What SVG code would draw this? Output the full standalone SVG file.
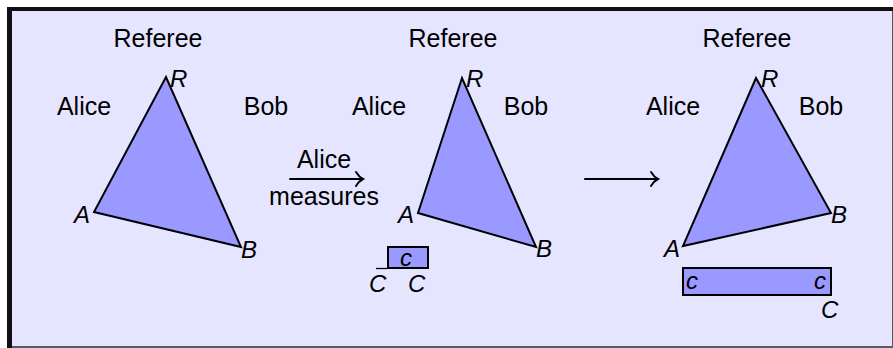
<svg xmlns="http://www.w3.org/2000/svg" width="893" height="348" viewBox="0 0 893 348">
<style>
.t{font-family:"Liberation Sans",Arial,sans-serif;font-size:25px;fill:#000}
.m{font-family:"Liberation Sans",Arial,sans-serif;font-size:24px;font-style:italic;fill:#000}
.tri{fill:#9999ff;stroke:#000;stroke-width:2;stroke-linejoin:miter}
.box{fill:#9999ff;stroke:#000;stroke-width:2}
.arr{fill:none;stroke:#000;stroke-width:2;stroke-linecap:round}
</style>
<rect x="0" y="0" width="893" height="348" fill="#fff"/>
<rect x="7" y="7" width="886" height="341" fill="#111"/>
<rect x="12" y="11" width="881" height="337" fill="#5a5a66"/>
<rect x="12" y="11" width="880" height="335" fill="#e5e5ff"/>

<g id="panel1">
<text class="t" x="158" y="47" text-anchor="middle">Referee</text>
<text class="t" x="84" y="115" text-anchor="middle">Alice</text>
<text class="t" x="266" y="115" text-anchor="middle">Bob</text>
<polygon class="tri" points="166,77 94,212 241,247"/>
<text class="m" x="170" y="87">R</text>
<text class="m" x="74" y="223">A</text>
<text class="m" x="241" y="258">B</text>
</g>

<g id="panel2">
<text class="t" x="453" y="47" text-anchor="middle">Referee</text>
<text class="t" x="379" y="115" text-anchor="middle">Alice</text>
<text class="t" x="526" y="115" text-anchor="middle">Bob</text>
<polygon class="tri" points="462,78 418,213 536,247"/>
<text class="m" x="466" y="87">R</text>
<text class="m" x="398" y="223">A</text>
<text class="m" x="536" y="257">B</text>
<rect class="box" x="388" y="247" width="40" height="21"/>
<text class="m" x="400" y="266">c</text>
<text class="m" x="369" y="292">C</text>
<line x1="376" y1="268.5" x2="387" y2="268.5" stroke="#000" stroke-width="1.3"/>
<text class="m" x="408" y="292">C</text>
</g>

<g id="panel3">
<text class="t" x="747" y="47" text-anchor="middle">Referee</text>
<text class="t" x="673" y="115" text-anchor="middle">Alice</text>
<text class="t" x="821" y="115" text-anchor="middle">Bob</text>
<polygon class="tri" points="756,78 683,246 831,213"/>
<text class="m" x="761" y="87">R</text>
<text class="m" x="664" y="257">A</text>
<text class="m" x="831" y="223">B</text>
<rect class="box" x="683" y="268" width="148" height="27"/>
<text class="m" x="686" y="289">c</text>
<text class="m" x="814" y="289">c</text>
<text class="m" x="821" y="318">C</text>
</g>

<g id="connectors">
<g id="arrow1">
<line class="arr" x1="290" y1="179" x2="362" y2="179"/>
<path class="arr" d="M356,172 Q359,177 363,179 Q359,181 356,186"/>
<text class="t" x="324" y="168" text-anchor="middle">Alice</text>
<text class="t" x="324" y="205" text-anchor="middle">measures</text>
</g>
<g id="arrow2">
<line class="arr" x1="585" y1="179" x2="657" y2="179"/>
<path class="arr" d="M651,172 Q654,177 658,179 Q654,181 651,186"/>
</g>
</g>
</svg>
